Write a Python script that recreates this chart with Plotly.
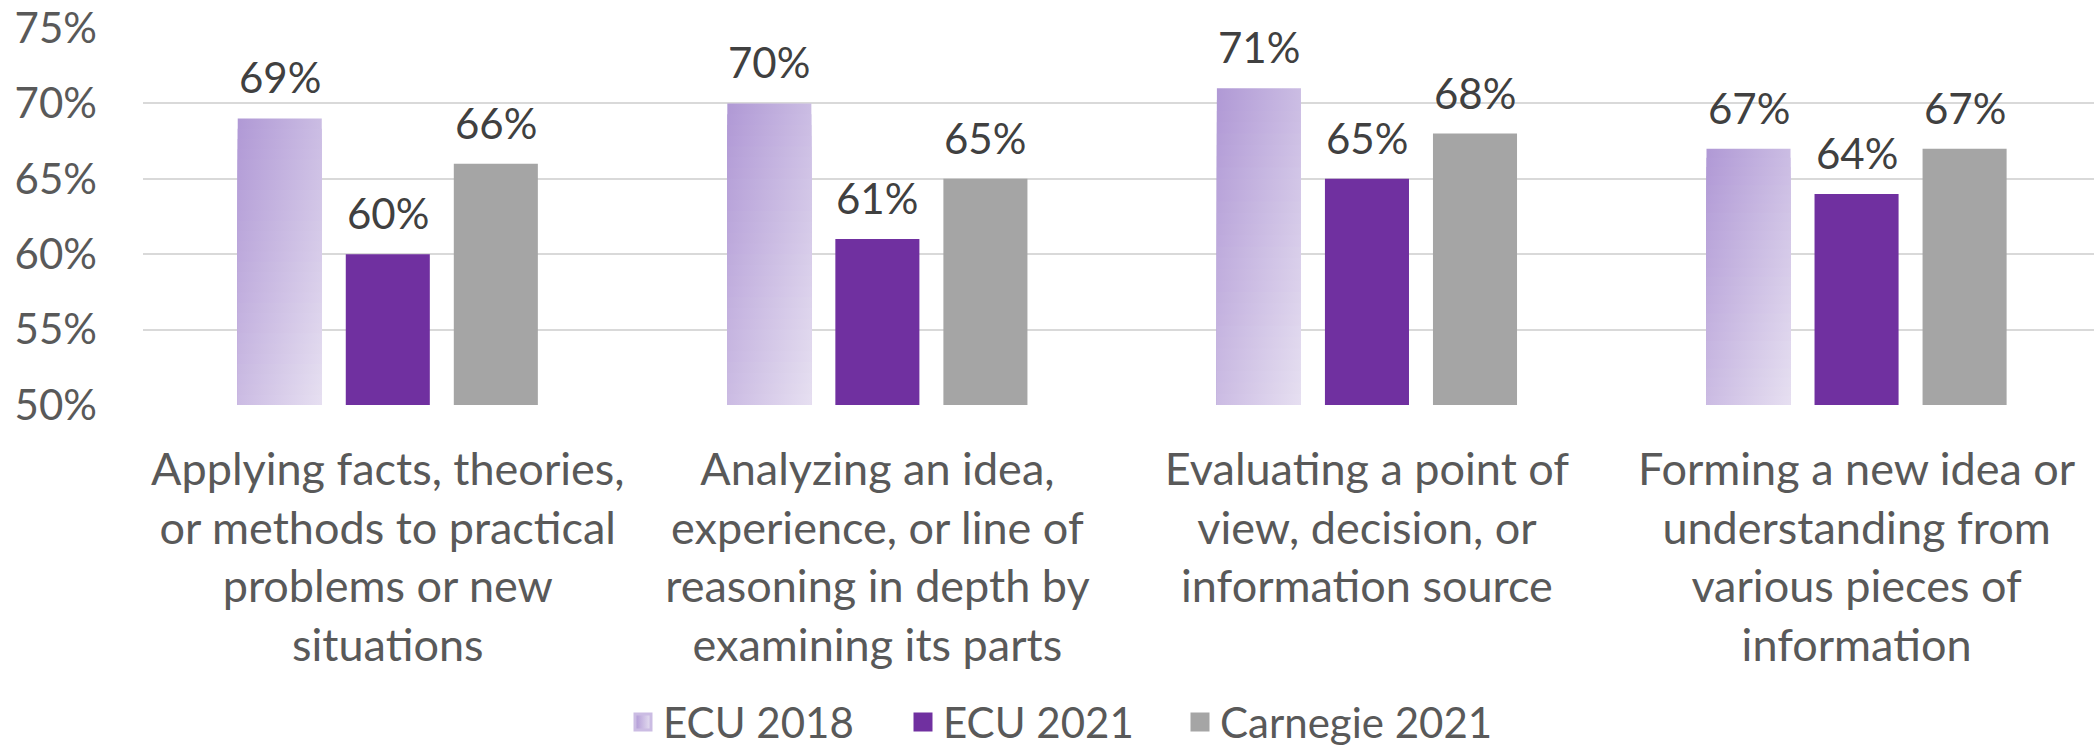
import plotly.graph_objects as go

# --- data -------------------------------------------------------------
categories = [
    "Applying facts, theories, or methods to practical problems or new situations",
    "Analyzing an idea, experience, or line of reasoning in depth by examining its parts",
    "Evaluating a point of view, decision, or information source",
    "Forming a new idea or understanding from various pieces of information",
]
tick_labels = [
    "Applying facts, theories,<br>or methods to practical<br>problems or new<br>situations",
    "Analyzing an idea,<br>experience, or line of<br>reasoning in depth by<br>examining its parts",
    "Evaluating a point of<br>view, decision, or<br>information source",
    "Forming a new idea or<br>understanding from<br>various pieces of<br>information",
]
series_names = ["ECU 2018", "ECU 2021", "Carnegie 2021"]
ecu_2018 = [0.69, 0.70, 0.71, 0.67]
ecu_2021 = [0.60, 0.61, 0.65, 0.64]
carnegie_2021 = [0.66, 0.65, 0.68, 0.67]
y_ticks = [0.50, 0.55, 0.60, 0.65, 0.70, 0.75]

# --- style ------------------------------------------------------------
FONT = "Lato"
FS = 42
FS_CAT = 45
AXIS_GREY = "#595959"
LABEL_GREY = "#404040"
GRID = "#D9D9D9"
PURPLE = "#7030A0"
GREY_BAR = "#A5A5A5"
GRAD_DARK = (176, 152, 213)   # top-left of the 2018 bars
GRAD_LIGHT = (230, 224, 241)  # bottom-right of the 2018 bars
BARGAP = 0.338
BARGROUPGAP = 0.222
Y_MIN, Y_MAX = 0.50, 0.75
X_RANGE = [-0.5, 3.485]
N_BANDS = 28
LEGEND_LEFT_PX = [623, 903, 1180]   # left edge of each legend entry

series = [ecu_2018, ecu_2021, carnegie_2021]
n_series = len(series)
slot = (1 - BARGAP) / n_series
bar_w = slot * (1 - BARGROUPGAP)


def bar_center(cat_idx, series_idx):
    return cat_idx - (1 - BARGAP) / 2 + slot * (series_idx + 0.5)


def mix(t):
    t = max(0.0, min(1.0, t))
    r, g, b = (round(a + (c - a) * t) for a, c in zip(GRAD_DARK, GRAD_LIGHT))
    return f"rgb({r},{g},{b})"


fig = go.Figure()

# Bars for each series; the 2018 bars are laid out by the group but painted
# with gradient polygons on top.
colors = ["rgba(0,0,0,0)", PURPLE, GREY_BAR]
for k, (name, vals) in enumerate(zip(series_names, series)):
    fig.add_trace(go.Bar(
        x=categories, y=vals, name=name,
        marker=dict(color=colors[k], line=dict(width=0)),
        showlegend=False,
        hovertemplate="%{x}<br>" + name + ": %{y:.0%}<extra></extra>",
    ))

# Diagonal gradient fill for the ECU 2018 bars, built from stacked bands
for i, v in enumerate(ecu_2018):
    xc = bar_center(i, 0)
    x0, x1 = xc - bar_w / 2, xc + bar_w / 2
    h = v - Y_MIN
    for j in range(N_BANDS):
        top = v - h * j / N_BANDS
        vmid = (j + 0.5) / N_BANDS
        fig.add_trace(go.Scatter(
            x=[x0, x1, x1, x0, x0], y=[top, top, Y_MIN, Y_MIN, top],
            xaxis="x2", mode="none", fill="toself",
            fillgradient=dict(
                type="horizontal",
                colorscale=[[0, mix(vmid * 0.5)], [1, mix(0.5 + vmid * 0.5)]],
                start=x0, stop=x1,
            ),
            showlegend=False, hoverinfo="skip",
        ))

# Value labels above every bar
annotations = []
for k, vals in enumerate(series):
    for i, v in enumerate(vals):
        annotations.append(dict(
            x=bar_center(i, k), y=v, xref="x2", yref="y",
            text=f"{round(v * 100)}%", showarrow=False,
            yanchor="middle", yshift=41,
            font=dict(family=FONT, size=FS, color=LABEL_GREY),
        ))

# Legend entries, one legend box per series so each can be placed
legend_styles = [
    dict(color=mix(0.0), gradient=dict(type="horizontal", color=mix(1.0)),
         line=dict(width=3, color=mix(0.5))),
    dict(color=PURPLE, line=dict(width=3, color=PURPLE)),
    dict(color=GREY_BAR, line=dict(width=3, color=GREY_BAR)),
]
legend_ids = ["legend", "legend2", "legend3"]
for name, mk, lid in zip(series_names, legend_styles, legend_ids):
    fig.add_trace(go.Scatter(
        x=[None], y=[None], name=name, mode="markers",
        marker=dict(symbol="square", size=16, **mk),
        showlegend=True, legend=lid,
    ))

legend_common = dict(
    orientation="h", xref="container", yref="container",
    xanchor="left", y=0.032, yanchor="middle",
    font=dict(family=FONT, size=FS, color=AXIS_GREY),
    itemsizing="trace", bgcolor="rgba(0,0,0,0)",
)
legend_layout = {
    lid: dict(x=px / 2094, **legend_common)
    for lid, px in zip(legend_ids, LEGEND_LEFT_PX)
}

fig.update_layout(
    width=2094, height=746,
    margin=dict(l=143, r=0, t=28, b=341),
    paper_bgcolor="white", plot_bgcolor="white",
    barmode="group", bargap=BARGAP, bargroupgap=BARGROUPGAP,
    font=dict(family=FONT, size=FS, color=AXIS_GREY),
    annotations=annotations,
    showlegend=True,
    xaxis=dict(
        type="category", range=X_RANGE,
        tickmode="array", tickvals=categories, ticktext=tick_labels,
        showgrid=False, showline=False, zeroline=False, ticks="",
        ticklabelstandoff=34,
        tickfont=dict(family=FONT, size=FS_CAT, color=AXIS_GREY),
    ),
    xaxis2=dict(
        overlaying="x", range=X_RANGE, visible=False,
    ),
    yaxis=dict(
        range=[Y_MIN, Y_MAX], tickvals=y_ticks, tickformat=".0%",
        showgrid=True, gridcolor=GRID, gridwidth=2,
        zeroline=False, showline=False, ticks="",
        ticklabelstandoff=45,
        tickfont=dict(family=FONT, size=FS, color=AXIS_GREY),
    ),
    **legend_layout,
)

fig.write_html("out.html")
